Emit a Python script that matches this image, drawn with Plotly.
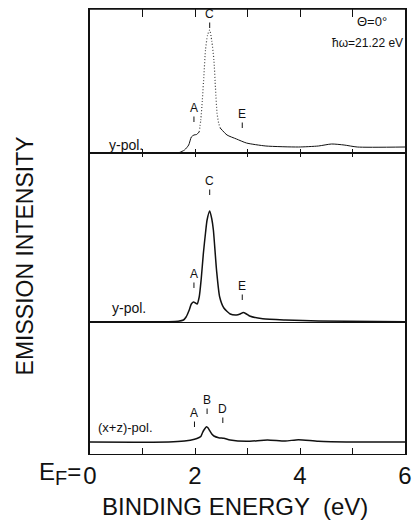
import plotly.graph_objects as go

# ---- data (binding energy in eV, intensity in arbitrary units) ----
top_E = [0.0, 1.0, 1.5, 1.70, 1.80, 1.88, 1.93, 1.98, 2.03, 2.08]
top_I = [0.0, 0.0, 0.0, 0.5, 3.0, 8.0, 16.0, 18.0, 18.5, 21.0]
top_peak_E = [2.08, 2.11, 2.14, 2.17, 2.20, 2.24, 2.28, 2.32, 2.36, 2.39, 2.42, 2.45, 2.48]
top_peak_I = [21.0, 33.0, 53.0, 78.0, 103.0, 118.0, 123.0, 112.0, 93.0, 65.0, 40.0, 30.0, 25.0]
top_tail_E = [2.48, 2.61, 2.79, 2.98, 3.35, 3.97, 4.35, 4.60, 4.84, 5.09, 6.0]
top_tail_I = [25.0, 18.0, 14.0, 10.0, 7.0, 6.0, 7.0, 9.0, 8.0, 6.0, 6.0]

mid_E = [0.0, 1.5, 1.68, 1.78, 1.83, 1.89, 1.93, 1.97, 2.01, 2.04, 2.08, 2.12, 2.16, 2.20,
         2.23, 2.28, 2.32, 2.35, 2.41, 2.47, 2.55, 2.67, 2.79, 2.86, 2.92, 2.98, 3.04, 3.29,
         3.72, 4.35, 6.0]
mid_I = [1.3, 1.3, 1.7, 3.0, 6.0, 13.0, 19.0, 21.0, 20.0, 19.0, 26.0, 45.0, 70.0, 90.0,
         103.0, 112.0, 104.0, 93.0, 53.0, 26.0, 15.0, 9.0, 8.0, 9.0, 10.5, 9.0, 7.0, 4.3,
         3.0, 2.0, 1.3]

bot_E = [0.0, 1.5, 1.80, 1.99, 2.08, 2.11, 2.14, 2.17, 2.22, 2.25, 2.28, 2.32, 2.36, 2.45,
         2.55, 2.67, 2.98, 3.38, 3.72, 3.97, 4.35, 5.0, 6.0]
bot_I = [12.0, 12.0, 13.0, 14.7, 16.5, 17.5, 21.0, 24.0, 27.3, 26.0, 23.3, 20.0, 18.0, 16.3,
         15.7, 14.0, 12.7, 14.0, 13.0, 14.3, 12.7, 12.0, 12.0]

# peak markers: (label, energy, marker height)
top_marks_lbl = ["A", "C", "E"]
top_marks_E = [1.98, 2.28, 2.90]
top_marks_I = [31, 125, 25]
mid_marks_lbl = ["A", "C", "E"]
mid_marks_E = [1.98, 2.28, 2.90]
mid_marks_I = [35, 128, 23]
bot_marks_lbl = ["A", "B", "D"]
bot_marks_E = [1.99, 2.23, 2.53]
bot_marks_I = [27, 40, 31]

x_range = [0, 6]
x_label_vals = [0, 2, 4, 6]
x_label_text = ["0", "2", "4", "6"]
x_minor_vals = [1, 3, 5]
x_all_vals = [1, 2, 3, 4, 5]

INK = "#111111"
FONT = "Liberation Sans"

fig = go.Figure()
fig.add_trace(go.Scatter(x=top_E, y=top_I, xaxis="x3", yaxis="y3", mode="lines",
                         line=dict(color=INK, width=1, shape="spline", smoothing=0.6)))
fig.add_trace(go.Scatter(x=top_peak_E, y=top_peak_I, xaxis="x3", yaxis="y3", mode="lines",
                         line=dict(color="#444444", width=1.2, dash="1px,2px", shape="spline",
                                   smoothing=0.6)))
fig.add_trace(go.Scatter(x=top_tail_E, y=top_tail_I, xaxis="x3", yaxis="y3", mode="lines",
                         line=dict(color=INK, width=1, shape="spline", smoothing=0.6)))
# carrier for the top frame axis (invisible copy of the top tail)
fig.add_trace(go.Scatter(x=top_tail_E, y=top_tail_I, xaxis="x4", yaxis="y3", mode="lines",
                         line=dict(color="rgba(0,0,0,0)", width=0), hoverinfo="skip"))
fig.add_trace(go.Scatter(x=mid_E, y=mid_I, xaxis="x2", yaxis="y2", mode="lines",
                         line=dict(color=INK, width=1.5, shape="spline", smoothing=0.6)))
fig.add_trace(go.Scatter(x=bot_E, y=bot_I, xaxis="x", yaxis="y", mode="lines",
                         line=dict(color=INK, width=1.5, shape="spline", smoothing=0.6)))

ann = []
def marks(lbls, Es, Is, xr, yr):
    for l, e, i in zip(lbls, Es, Is):
        ann.append(dict(x=e, y=i, xref=xr, yref=yr, text=l, showarrow=True, arrowhead=0,
                        arrowwidth=1, arrowcolor=INK, ax=0, ay=-14, standoff=0,
                        font=dict(size=12, color=INK, family=FONT)))
marks(top_marks_lbl, top_marks_E, top_marks_I, "x3", "y3")
marks(mid_marks_lbl, mid_marks_E, mid_marks_I, "x2", "y2")
marks(bot_marks_lbl, bot_marks_E, bot_marks_I, "x", "y")

txt = dict(color=INK, family=FONT)
ann += [
    dict(x=0.32, y=8, xref="x3", yref="y3", text="y-pol.", showarrow=False, xanchor="left",
         font=dict(size=14, **txt)),
    dict(x=0.38, y=15, xref="x2", yref="y2", text="y-pol.", showarrow=False, xanchor="left",
         font=dict(size=14, **txt)),
    dict(x=0.11, y=27, xref="x", yref="y", text="(x+z)-pol.", showarrow=False, xanchor="left",
         font=dict(size=13, **txt)),
    dict(x=0.895, y=0.9708, xref="paper", yref="paper", text="Θ=0°", showarrow=False,
         xanchor="center", yanchor="middle", font=dict(size=13, **txt)),
    dict(x=1.0, y=0.9236, xref="paper", yref="paper", text="ħω=21.22 eV", showarrow=False,
         xanchor="right", yanchor="middle", font=dict(size=12, **txt)),
    dict(x=0, y=-0.0449, xref="x", yref="paper",
         text="E<sub><span style='font-size:20px'>F</span></sub>=", showarrow=False,
         xanchor="right", yanchor="middle", xshift=-7, font=dict(size=24, **txt)),
    dict(x=0.46, y=-0.1169, xref="paper", yref="paper", text="BINDING ENERGY  (eV)",
         showarrow=False, xanchor="center", yanchor="middle", font=dict(size=24, **txt)),
    dict(x=-0.205, y=0.4449, xref="paper", yref="paper", text="EMISSION INTENSITY",
         showarrow=False, textangle=-90, xanchor="center", yanchor="middle",
         font=dict(size=23, **txt)),
]

ax_common = dict(range=x_range, showgrid=False, zeroline=False, linecolor=INK, linewidth=1.3,
                 tickcolor=INK, tickwidth=1.3)
y_common = dict(showgrid=False, zeroline=False, showticklabels=False, ticks="",
                showline=True, mirror=True, linecolor=INK, linewidth=1.5, fixedrange=True)

fig.update_layout(
    width=420, height=525, margin=dict(l=90, r=8, t=9, b=71),
    paper_bgcolor="white", plot_bgcolor="white", showlegend=False,
    font=dict(family=FONT, color=INK),
    xaxis=dict(**ax_common, anchor="y", showline=True, mirror=True, ticks="inside", ticklen=6,
               tickvals=x_label_vals, ticktext=x_label_text,
               tickfont=dict(size=24, family=FONT, color=INK),
               minor=dict(tickvals=x_minor_vals, ticks="inside", ticklen=6,
                          tickcolor=INK, tickwidth=1.3)),
    xaxis2=dict(**ax_common, anchor="y2", side="top", showline=True,
                tickvals=x_all_vals, ticks="inside", ticklen=4, showticklabels=False),
    xaxis3=dict(**ax_common, anchor="y3", side="bottom", showline=True,
                tickvals=x_all_vals, ticks="inside", ticklen=4, showticklabels=False),
    xaxis4=dict(**ax_common, anchor="y3", overlaying="x3", side="top", showline=True,
                tickvals=x_all_vals, ticks="inside", ticklen=8, showticklabels=False),
    yaxis=dict(**y_common, domain=[0.0, 0.2944], range=[0, 131]),
    yaxis2=dict(**y_common, domain=[0.2944, 0.6764], range=[0, 170]),
    yaxis3=dict(**y_common, domain=[0.6764, 1.0], range=[0, 144]),
    shapes=[dict(type="line", xref="paper", yref="paper", x0=0, x1=1, y0=1, y1=1,
                 line=dict(color=INK, width=1.5))],
    annotations=ann,
)

fig.write_html("out.html", config={"displayModeBar": False},
               post_script="document.body.style.margin='0';")
